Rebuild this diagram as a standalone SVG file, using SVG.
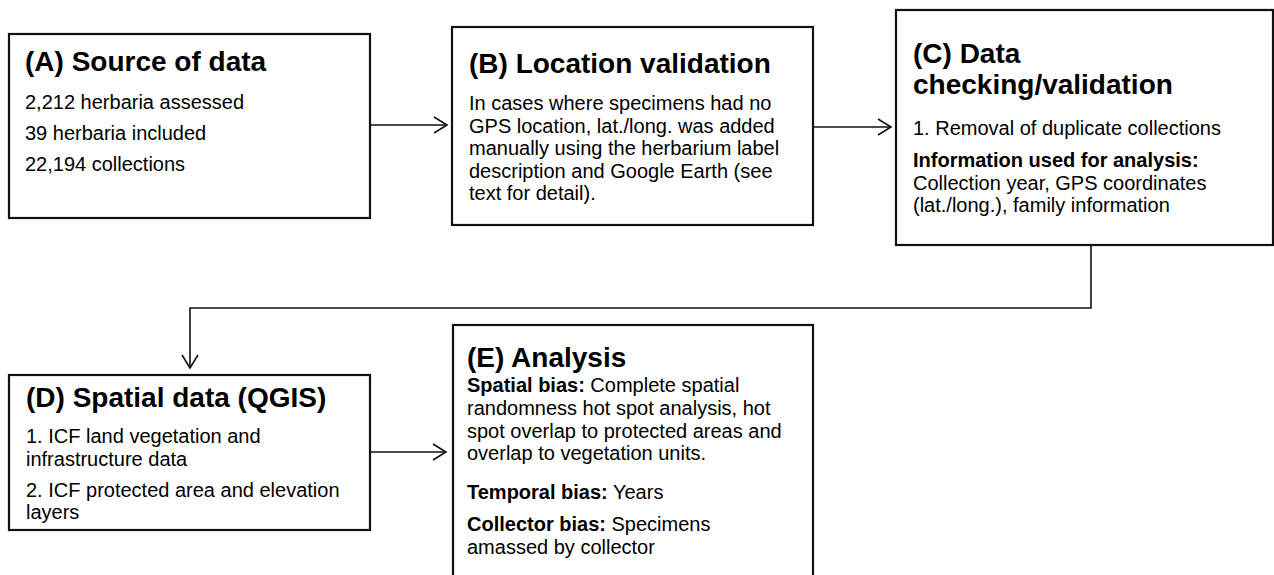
<svg xmlns="http://www.w3.org/2000/svg" width="1274" height="575" viewBox="0 0 1274 575">
<style>
.box{fill:#fff;stroke:#111;stroke-width:2.2}
.t{font-family:"Liberation Sans",Arial,sans-serif;font-size:28px;font-weight:bold;fill:#000}
.b{font-family:"Liberation Sans",Arial,sans-serif;font-size:20px;fill:#000}
.bb{font-weight:bold}
.c{fill:none;stroke:#111;stroke-width:1.6}
</style>
<defs>
<marker id="arr" markerUnits="userSpaceOnUse" markerWidth="20" markerHeight="20" viewBox="-14 -10 16 20" refX="0" refY="0" orient="auto">
<path d="M-13,-8 L0,0 L-13,8" fill="none" stroke="#111" stroke-width="1.6"/>
</marker>
</defs>
<rect width="1274" height="575" fill="#fff"/>
<g id="connectors">
<path class="c" d="M370,125 L447,125" marker-end="url(#arr)"/>
<path class="c" d="M813,127 L891,127" marker-end="url(#arr)"/>
<path class="c" d="M1091,245 L1091,308 L190,308 L190,368" marker-end="url(#arr)"/>
<path class="c" d="M370,452 L446,452" marker-end="url(#arr)"/>
</g>
<g id="nodeA">
<rect class="box" x="9" y="34" width="361" height="184"/>
<text class="t" x="25" y="71">(A) Source of data</text>
<text class="b" x="25" y="109">2,212 herbaria assessed</text>
<text class="b" x="25" y="140">39 herbaria included</text>
<text class="b" x="25" y="171">22,194 collections</text>
</g>
<g id="nodeB">
<rect class="box" x="452" y="27" width="361" height="198"/>
<text class="t" x="469" y="73">(B) Location validation</text>
<text class="b" x="469" y="110">In cases where specimens had no</text>
<text class="b" x="469" y="132.5">GPS location, lat./long. was added</text>
<text class="b" x="469" y="155">manually using the herbarium label</text>
<text class="b" x="469" y="177.5">description and Google Earth (see</text>
<text class="b" x="469" y="200">text for detail).</text>
</g>
<g id="nodeC">
<rect class="box" x="896" y="10" width="377" height="235"/>
<text class="t" x="913" y="63">(C) Data</text>
<text class="t" x="913" y="94">checking/validation</text>
<text class="b" x="913" y="135">1. Removal of duplicate collections</text>
<text class="b bb" x="913" y="167">Information used for analysis:</text>
<text class="b" x="913" y="189.5">Collection year, GPS coordinates</text>
<text class="b" x="913" y="212">(lat./long.), family information</text>
</g>
<g id="nodeD">
<rect class="box" x="9" y="375" width="361" height="155"/>
<text class="t" x="26" y="407">(D) Spatial data (QGIS)</text>
<text class="b" x="26" y="443">1. ICF land vegetation and</text>
<text class="b" x="26" y="465.5">infrastructure data</text>
<text class="b" x="26" y="497">2. ICF protected area and elevation</text>
<text class="b" x="26" y="519">layers</text>
</g>
<g id="nodeE">
<rect class="box" x="453" y="325" width="360" height="270"/>
<text class="t" x="467" y="367">(E) Analysis</text>
<text class="b" x="467" y="392"><tspan class="bb">Spatial bias:</tspan> Complete spatial</text>
<text class="b" x="467" y="415">randomness hot spot analysis, hot</text>
<text class="b" x="467" y="437.5">spot overlap to protected areas and</text>
<text class="b" x="467" y="460">overlap to vegetation units.</text>
<text class="b" x="467" y="499"><tspan class="bb">Temporal bias:</tspan> Years</text>
<text class="b" x="467" y="531"><tspan class="bb">Collector bias:</tspan> Specimens</text>
<text class="b" x="467" y="554">amassed by collector</text>
</g>
</svg>
